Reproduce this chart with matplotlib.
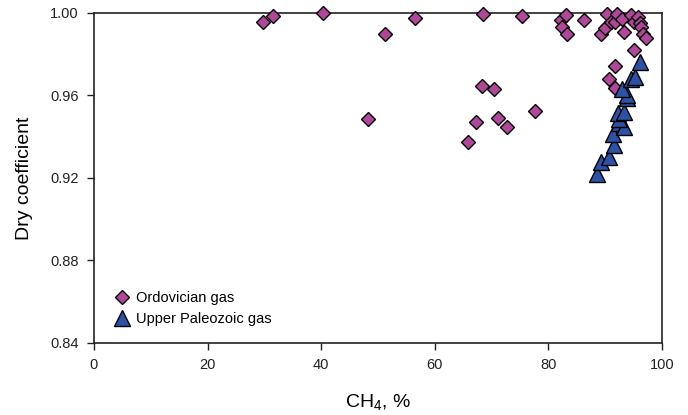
import matplotlib.pyplot as plt

plt.rcParams['font.family'] = ['Liberation Sans', 'DejaVu Sans']
plt.rcParams['mathtext.default'] = 'regular'

# Ordovician gas (diamonds)
ord_ch4 = [29.8, 31.6, 40.3, 48.3, 51.3, 56.5, 65.8, 67.3, 68.3, 68.4, 70.5, 71.2,
           72.8, 75.3, 77.7, 82.2, 82.4, 83.1, 83.3, 86.3, 89.2, 90.0, 90.4, 90.6,
           91.0, 91.8, 91.8, 91.8, 92.1, 93.0, 93.3, 94.5, 95.1, 95.1, 95.7, 96.1,
           96.3, 96.7, 97.1]
ord_dry = [0.9956, 0.9985, 0.9998, 0.9486, 0.9900, 0.9977, 0.9376, 0.9473, 0.9647,
           0.9994, 0.9630, 0.9490, 0.9446, 0.9985, 0.9526, 0.9966, 0.9930, 0.9990,
           0.9900, 0.9966, 0.9900, 0.9927, 0.9995, 0.9680, 0.9956, 0.9744, 0.9956,
           0.9635, 0.9995, 0.9970, 0.9908, 0.9990, 0.9956, 0.9820, 0.9980, 0.9950,
           0.9930, 0.9900, 0.9879]

# Upper Paleozoic gas (triangles)
up_ch4 = [88.6, 89.2, 90.7, 91.6, 91.3, 92.4, 93.3, 92.4, 92.3, 93.3, 93.9, 93.9,
          93.0, 94.5, 95.3, 96.1]
up_dry = [0.9217, 0.9279, 0.9300, 0.9360, 0.9413, 0.9465, 0.9449, 0.9484, 0.9513,
          0.9521, 0.9586, 0.9600, 0.9630, 0.9680, 0.9690, 0.9764]

x_ticks = [0, 20, 40, 60, 80, 100]
y_ticks = [0.84, 0.88, 0.92, 0.96, 1.00]

fig = plt.figure(figsize=(6.88, 4.15), dpi=100)
ax = fig.add_axes([0.1366, 0.1735, 0.8256, 0.7952])

ax.plot(ord_ch4, ord_dry, 'D', markersize=6.8, markerfacecolor='#B1479B',
        markeredgecolor='black', markeredgewidth=1.0, clip_on=False, zorder=3,
        label='Ordovician gas')
ax.plot(up_ch4, up_dry, '^', markersize=11, markerfacecolor='#2B52A6',
        markeredgecolor='black', markeredgewidth=1.0, clip_on=False, zorder=4,
        label='Upper Paleozoic gas')

ax.set_xlim(0, 100)
ax.set_ylim(0.84, 1.00)
ax.set_xticks(x_ticks)
ax.set_yticks(y_ticks)
ax.set_yticklabels(['%.2f' % v for v in y_ticks])
ax.tick_params(direction='out', length=5, width=1.0, labelsize=10.5,
               colors='#222222', pad=6)

for s in ax.spines.values():
    s.set_linewidth(1.2)
    s.set_color('#222222')

ax.set_xlabel('CH$_4$, %', fontsize=14, labelpad=14)
ax.set_ylabel('Dry coefficient', fontsize=14, labelpad=12)

ax.legend(loc='lower left', bbox_to_anchor=(0.006, 0.012), frameon=False,
          fontsize=10.5, handletextpad=0.15, borderaxespad=0.5,
          labelspacing=0.45, handlelength=1.6)

plt.savefig('out.png', dpi=100)
